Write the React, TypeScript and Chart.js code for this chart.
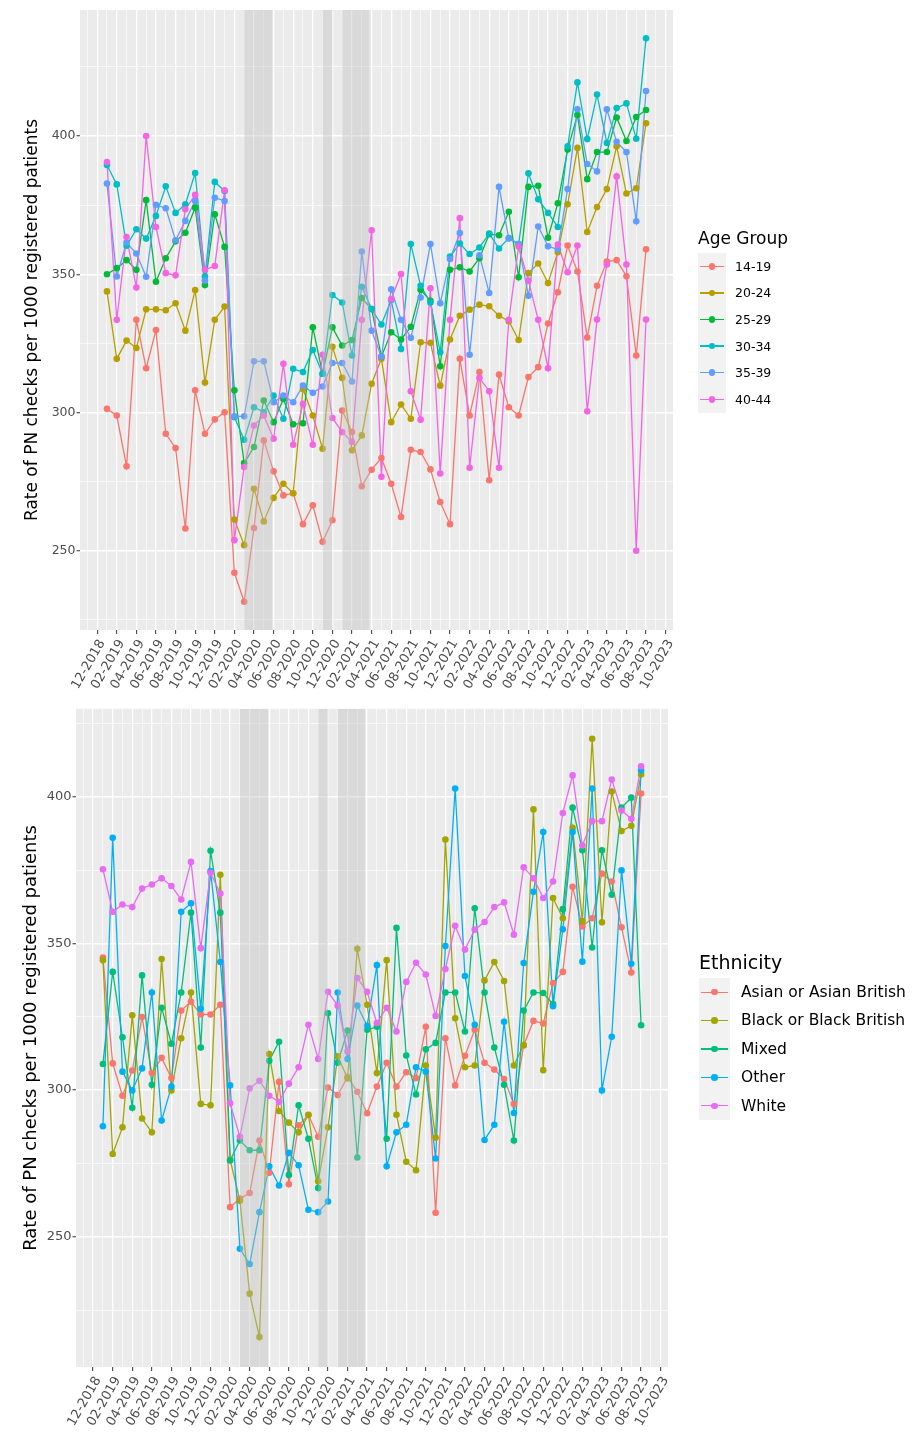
import React, { useEffect, useRef } from "react";
import { Chart, registerables } from "chart.js";

Chart.register(...registerables);

const FONT = "'DejaVu Sans', sans-serif";

// ---------------- DATA ----------------
const months = [
  "01-2019", "02-2019", "03-2019", "04-2019", "05-2019", "06-2019", "07-2019", "08-2019", "09-2019", "10-2019", "11-2019", "12-2019",
  "01-2020", "02-2020", "03-2020", "04-2020", "05-2020", "06-2020", "07-2020", "08-2020", "09-2020", "10-2020", "11-2020", "12-2020",
  "01-2021", "02-2021", "03-2021", "04-2021", "05-2021", "06-2021", "07-2021", "08-2021", "09-2021", "10-2021", "11-2021", "12-2021",
  "01-2022", "02-2022", "03-2022", "04-2022", "05-2022", "06-2022", "07-2022", "08-2022", "09-2022", "10-2022", "11-2022", "12-2022",
  "01-2023", "02-2023", "03-2023", "04-2023", "05-2023", "06-2023", "07-2023", "08-2023",
];

const tickLabels = [
  "12-2018", "02-2019", "04-2019", "06-2019", "08-2019", "10-2019", "12-2019", "02-2020", "04-2020", "06-2020",
  "08-2020", "10-2020", "12-2020", "02-2021", "04-2021", "06-2021", "08-2021", "10-2021", "12-2021", "02-2022",
  "04-2022", "06-2022", "08-2022", "10-2022", "12-2022", "02-2023", "04-2023", "06-2023", "08-2023", "10-2023",
];

const yTickValues = [225, 250, 275, 300, 325, 350, 375, 400, 425];
const yMajorValues = [250, 300, 350, 400];

// lockdown periods (shaded)
const lockdowns = [
  ["2020-03-01", "2020-05-28"],
  ["2020-11-01", "2020-12-01"],
  ["2021-01-01", "2021-03-25"],
];

const ageGroups = ["14-19", "20-24", "25-29", "30-34", "35-39", "40-44"];
const age14_19 = [301.3, 298.9, 280.5, 333.5, 316.0, 329.8, 292.3, 287.1, 258.0, 308.0, 292.3, 297.5, 300.1, 242.0, 231.5, 258.2, 289.9, 278.7, 270.0, 270.8, 259.6, 266.4, 253.2, 261.0, 300.7, 292.9, 273.3, 279.3, 283.5, 274.2, 262.2, 286.5, 285.7, 279.4, 267.6, 259.6, 319.4, 298.9, 314.6, 275.5, 313.7, 301.9, 298.9, 312.8, 316.4, 332.2, 343.5, 360.4, 351.0, 327.1, 345.8, 354.6, 355.1, 349.3, 320.6, 359.0];
const age20_24 = [343.8, 319.4, 326.0, 323.3, 337.3, 337.3, 337.0, 339.5, 329.6, 344.3, 310.8, 333.5, 338.3, 261.3, 252.0, 272.4, 260.6, 269.1, 274.2, 270.8, 308.5, 298.9, 286.9, 323.8, 312.5, 286.3, 291.7, 310.4, 319.4, 296.5, 302.9, 297.7, 325.4, 325.2, 309.7, 326.4, 335.0, 337.2, 339.0, 338.4, 335.0, 333.0, 326.2, 350.4, 353.9, 346.8, 358.0, 375.3, 395.7, 365.3, 374.3, 380.8, 396.3, 379.2, 381.1, 404.6];
const age25_29 = [350.0, 352.2, 355.1, 351.6, 376.8, 347.3, 355.8, 361.9, 365.0, 374.1, 346.1, 371.7, 359.9, 308.0, 281.7, 287.5, 304.3, 296.5, 304.9, 295.7, 296.1, 330.8, 314.0, 330.8, 324.2, 326.2, 341.4, 337.4, 320.2, 329.0, 326.4, 331.0, 344.4, 340.4, 316.7, 351.6, 352.5, 351.0, 355.8, 364.5, 364.1, 372.6, 348.9, 381.6, 382.0, 363.2, 375.7, 395.1, 407.6, 384.4, 394.2, 394.2, 406.7, 398.2, 406.9, 409.4];
const age30_34 = [389.5, 382.5, 360.3, 366.3, 362.9, 371.1, 381.8, 372.2, 375.3, 386.6, 349.2, 383.4, 380.1, 298.3, 290.1, 301.9, 300.1, 306.1, 297.7, 315.8, 314.6, 322.6, 314.0, 342.5, 339.8, 320.6, 345.5, 337.4, 331.8, 340.7, 323.0, 360.9, 345.8, 339.8, 321.8, 356.4, 361.1, 357.3, 359.7, 364.7, 359.3, 363.1, 360.9, 386.5, 377.1, 372.2, 367.1, 396.3, 419.4, 398.9, 415.0, 397.5, 410.1, 411.8, 399.0, 435.4];
const age35_39 = [382.8, 349.2, 361.5, 357.5, 349.1, 375.1, 373.9, 362.3, 369.3, 376.5, 347.7, 377.7, 376.5, 298.6, 298.6, 318.5, 318.5, 303.7, 306.1, 303.7, 309.7, 307.1, 309.4, 317.9, 317.9, 311.2, 358.2, 329.6, 320.2, 344.6, 333.5, 327.0, 341.6, 360.9, 339.5, 355.5, 364.9, 320.9, 356.9, 343.2, 381.6, 362.9, 360.9, 342.2, 367.3, 360.1, 359.0, 380.8, 409.7, 389.9, 387.2, 409.7, 397.9, 394.2, 369.2, 416.3];
const age40_44 = [390.6, 333.5, 363.5, 345.2, 400.0, 367.1, 350.4, 349.6, 373.5, 378.7, 351.6, 353.0, 380.4, 253.8, 280.3, 295.3, 298.9, 290.5, 317.6, 288.3, 303.1, 288.3, 320.9, 298.0, 292.9, 289.3, 333.5, 365.9, 276.7, 341.0, 350.1, 307.7, 297.4, 344.9, 277.9, 333.5, 370.3, 280.0, 312.5, 307.7, 280.0, 333.5, 360.0, 347.7, 333.5, 316.0, 360.7, 350.7, 360.4, 300.4, 333.6, 353.5, 385.4, 353.5, 250.0, 333.6];
const ageColors = ["#F8766D", "#B79F00", "#00BA38", "#00BFC4", "#619CFF", "#F564E3"];

const ethnicities = ["Asian or Asian British", "Black or Black British", "Mixed", "Other", "White"];
const ethAsian = [345.2, 309.1, 298.1, 306.7, 324.9, 305.8, 311.0, 304.1, 327.1, 330.1, 325.8, 325.8, 329.1, 260.1, 263.0, 264.9, 282.8, 271.8, 302.8, 267.9, 288.0, 291.5, 284.1, 300.9, 298.3, 304.5, 299.4, 292.1, 301.2, 309.3, 301.2, 306.1, 304.1, 321.6, 258.2, 317.7, 301.6, 311.7, 320.6, 309.3, 307.0, 303.8, 295.3, 315.2, 323.6, 322.7, 336.5, 340.3, 369.3, 355.8, 358.6, 373.8, 371.1, 355.5, 340.1, 401.1];
const ethBlack = [344.3, 278.2, 287.3, 325.5, 290.3, 285.6, 344.7, 299.9, 317.7, 333.3, 295.3, 294.8, 373.4, 276.3, 262.3, 230.6, 215.8, 312.3, 292.9, 288.9, 285.6, 291.6, 268.9, 287.3, 311.5, 304.0, 348.2, 329.1, 305.8, 344.3, 291.6, 275.6, 272.7, 308.4, 283.8, 385.4, 324.5, 307.8, 308.4, 337.4, 343.7, 337.2, 308.4, 315.4, 395.7, 306.8, 365.5, 358.6, 389.4, 357.6, 419.8, 357.2, 401.8, 388.3, 390.1, 407.6];
const ethMixed = [308.9, 340.3, 318.0, 294.0, 339.1, 301.8, 328.1, 315.8, 333.3, 360.5, 314.5, 381.6, 360.5, 276.0, 282.8, 279.5, 279.5, 310.0, 316.5, 271.1, 294.8, 283.4, 266.6, 326.2, 309.3, 320.3, 277.0, 320.6, 321.6, 283.4, 355.3, 311.8, 298.5, 313.9, 316.1, 333.3, 333.3, 320.0, 362.0, 333.3, 314.5, 301.8, 282.8, 327.1, 333.3, 333.1, 329.3, 361.7, 396.3, 381.8, 348.6, 381.8, 366.6, 396.3, 399.7, 322.1];
const ethOther = [287.7, 386.0, 306.3, 299.9, 307.4, 333.3, 289.6, 301.2, 360.8, 363.7, 327.7, 374.7, 343.7, 301.6, 245.9, 240.7, 258.4, 274.0, 267.5, 278.6, 274.4, 259.2, 258.4, 262.0, 333.3, 310.6, 328.8, 321.9, 342.6, 274.0, 285.6, 288.2, 307.8, 306.3, 276.7, 349.1, 402.8, 338.9, 322.3, 283.0, 288.2, 323.3, 292.2, 343.3, 367.6, 388.0, 328.6, 354.8, 388.0, 343.8, 402.8, 299.9, 318.2, 374.9, 343.1, 409.0];
const ethWhite = [375.3, 360.8, 363.3, 362.4, 368.7, 370.1, 372.2, 369.6, 365.0, 377.8, 348.4, 374.1, 367.0, 295.5, 284.1, 300.6, 303.2, 298.1, 296.0, 302.2, 307.8, 322.3, 310.6, 333.5, 328.8, 313.2, 338.2, 333.5, 322.9, 328.1, 320.0, 336.9, 343.4, 339.4, 325.3, 341.3, 356.0, 347.9, 354.7, 357.3, 362.4, 364.0, 353.0, 376.0, 372.2, 365.5, 371.1, 394.5, 407.3, 383.4, 391.7, 391.7, 405.9, 395.3, 392.5, 410.4];
const ethColors = ["#F8766D", "#A3A500", "#00BF7D", "#00B0F6", "#E76BF3"];

// ---------------- HELPERS ----------------
function monthIndex(label: string): number {
  const [mm, yyyy] = label.split("-").map(Number);
  return (yyyy - 2019) * 12 + (mm - 1);
}
function dateIndex(d: string): number {
  const [y, m, day] = d.split("-").map(Number);
  const dim = new Date(y, m, 0).getDate();
  return (y - 2019) * 12 + (m - 1) + (day - 1) / dim;
}

const tickValues = tickLabels.map(monthIndex);
const bandRanges = lockdowns.map(([s, e]) => [dateIndex(s), dateIndex(e)]);

const panelPlugin = {
  id: "panel",
  beforeDraw(chart: any) {
    const { ctx, chartArea: a } = chart;
    ctx.save();
    ctx.fillStyle = "#EBEBEB";
    ctx.fillRect(a.left, a.top, a.right - a.left, a.bottom - a.top);
    ctx.restore();
  },
  afterDatasetsDraw(chart: any) {
    const { ctx, chartArea: a } = chart;
    const x = chart.scales.x;
    ctx.save();
    ctx.beginPath();
    ctx.rect(a.left, a.top, a.right - a.left, a.bottom - a.top);
    ctx.clip();
    ctx.fillStyle = "rgba(190,190,190,0.4)";
    for (const [s, e] of bandRanges) {
      const x0 = x.getPixelForValue(s);
      const x1 = x.getPixelForValue(e);
      ctx.fillRect(x0, a.top, x1 - x0, a.bottom - a.top);
    }
    ctx.restore();
  },
};

type PanelProps = {
  width: number;
  height: number;
  series: number[][];
  colors: string[];
  padding: { left: number; right: number; top: number; bottom: number };
  yAxisWidth: number;
  xAxisHeight: number;
  titleSize: number;
  titlePad: number;
  tickSize: number;
  xTickSize: number;
};

function PanelChart(p: PanelProps) {
  const ref = useRef<HTMLCanvasElement>(null);
  useEffect(() => {
    if (!ref.current) return;
    const all = p.series.flat();
    const lo = Math.min(...all);
    const hi = Math.max(...all);
    const ey = (hi - lo) * 0.05;
    const n = months.length - 1;
    const ex = n * 0.05;
    const xmin = -ex;
    const xmax = n + ex;
    const xGrid: number[] = [];
    for (let v = Math.ceil(xmin); v <= Math.floor(xmax); v++) xGrid.push(v);
    const isMajorX = (v: number) => tickValues.includes(v);
    const isMajorY = (v: number) => yMajorValues.includes(v);
    const k = p.series.length;

    const lineSets = p.series.map((vals, i) => ({
      type: "line",
      data: vals.map((v, j) => ({ x: j, y: v })),
      borderColor: p.colors[i],
      backgroundColor: p.colors[i],
      borderWidth: 1.3,
      pointRadius: 0,
      fill: false,
      tension: 0,
      order: 100 + (k - i),
    }));
    const pointSets = p.series.map((vals, i) => ({
      type: "line",
      data: vals.map((v, j) => ({ x: j, y: v })),
      showLine: false,
      borderColor: p.colors[i],
      backgroundColor: p.colors[i],
      pointBackgroundColor: p.colors[i],
      pointBorderWidth: 0,
      pointRadius: 3.3,
      order: k - i,
    }));

    const chart = new Chart(ref.current, {
      type: "line",
      data: { datasets: [...lineSets, ...pointSets] as any },
      options: {
        animation: false,
        responsive: false,
        maintainAspectRatio: false,
        events: [],
        layout: { padding: p.padding },
        plugins: { legend: { display: false }, tooltip: { enabled: false } },
        scales: {
          x: {
            type: "linear",
            min: xmin,
            max: xmax,
            afterBuildTicks: (s: any) => {
              s.ticks = xGrid.map((v) => ({ value: v }));
            },
            afterFit: (s: any) => {
              s.height = p.xAxisHeight;
            },
            ticks: {
              autoSkip: false,
              minRotation: 60,
              maxRotation: 60,
              padding: 3,
              labelOffset: 5,
              color: "#4D4D4D",
              font: { family: FONT, size: p.xTickSize },
              callback: (v: any) => {
                const idx = tickValues.indexOf(Number(v));
                return idx >= 0 ? tickLabels[idx] : "";
              },
            },
            grid: {
              color: "#FFFFFF",
              lineWidth: (c: any) => (isMajorX(c.tick?.value) ? 1.3 : 0.6),
              tickLength: 4,
              tickWidth: 1,
              tickColor: (c: any) => (isMajorX(c.tick?.value) ? "#333333" : "rgba(0,0,0,0)"),
            },
            border: { display: false },
          },
          y: {
            type: "linear",
            min: lo - ey,
            max: hi + ey,
            afterBuildTicks: (s: any) => {
              s.ticks = yTickValues.filter((v) => v >= lo - ey && v <= hi + ey).map((v) => ({ value: v }));
            },
            afterFit: (s: any) => {
              s.width = p.yAxisWidth;
            },
            ticks: {
              padding: 1,
              color: "#4D4D4D",
              font: { family: FONT, size: p.tickSize },
              callback: (v: any) => (isMajorY(Number(v)) ? String(v) : ""),
            },
            grid: {
              color: "#FFFFFF",
              lineWidth: (c: any) => (isMajorY(c.tick?.value) ? 1.5 : 0.7),
              tickLength: 3.5,
              tickWidth: 1,
              tickColor: (c: any) => (isMajorY(c.tick?.value) ? "#333333" : "rgba(0,0,0,0)"),
            },
            border: { display: false },
            title: {
              display: true,
              text: "Rate of PN checks per 1000 registered patients",
              color: "#000000",
              font: { family: FONT, size: p.titleSize },
              padding: { top: p.titlePad, bottom: 0 },
            },
          },
        },
      } as any,
      plugins: [panelPlugin as any],
    });
    return () => chart.destroy();
  }, []);
  return <canvas ref={ref} width={p.width} height={p.height} style={{ display: "block" }} />;
}

type LegendProps = {
  left: number;
  titleTop: number;
  title: string;
  titleSize: number;
  items: string[];
  colors: string[];
  boxTop: number;
  itemH: number;
  boxW: number;
  textLeft: number;
  textSize: number;
};

function Legend(l: LegendProps) {
  return (
    <>
      <div
        style={{
          position: "absolute",
          left: l.left,
          top: l.titleTop,
          fontSize: l.titleSize,
          lineHeight: 1,
          color: "#000",
          whiteSpace: "nowrap",
          fontFamily: FONT,
        }}
      >
        {l.title}
      </div>
      <div
        style={{
          position: "absolute",
          left: l.left,
          top: l.boxTop,
          width: l.boxW,
          height: l.itemH * l.items.length,
          background: "#F2F2F2",
        }}
      />
      {l.items.map((it, i) => {
        const cy = l.boxTop + l.itemH * (i + 0.5);
        return (
          <React.Fragment key={it}>
            <div
              style={{
                position: "absolute",
                left: l.left + 2,
                top: cy - 0.7,
                width: l.boxW - 4,
                height: 1.4,
                background: l.colors[i],
              }}
            />
            <div
              style={{
                position: "absolute",
                left: l.left + l.boxW / 2 - 3.3,
                top: cy - 3.3,
                width: 6.6,
                height: 6.6,
                borderRadius: "50%",
                background: l.colors[i],
              }}
            />
            <div
              style={{
                position: "absolute",
                left: l.textLeft,
                top: cy - l.textSize * 0.6,
                fontSize: l.textSize,
                lineHeight: `${l.textSize * 1.2}px`,
                color: "#000",
                whiteSpace: "nowrap",
                fontFamily: FONT,
              }}
            >
              {it}
            </div>
          </React.Fragment>
        );
      })}
    </>
  );
}

export default function App() {
  Chart.defaults.font.family = FONT;
  return (
    <div style={{ position: "absolute", left: 0, top: 0, width: 917, height: 1436, background: "#FFFFFF", fontFamily: FONT }}>
      <div style={{ position: "absolute", left: 0, top: 0 }}>
        <PanelChart
          width={917}
          height={700}
          series={[age14_19, age20_24, age25_29, age30_34, age35_39, age40_44]}
          colors={ageColors}
          padding={{ left: 18, right: 244, top: 10, bottom: 0 }}
          yAxisWidth={62}
          xAxisHeight={70}
          titleSize={17}
          titlePad={4}
          tickSize={12.5}
          xTickSize={13}
        />
      </div>
      <div style={{ position: "absolute", left: 0, top: 700 }}>
        <PanelChart
          width={917}
          height={736}
          series={[ethAsian, ethBlack, ethMixed, ethOther, ethWhite]}
          colors={ethColors}
          padding={{ left: 14, right: 249, top: 3, bottom: 0 }}
          yAxisWidth={62}
          xAxisHeight={69}
          titleSize={18}
          titlePad={7}
          tickSize={13}
          xTickSize={13}
        />
      </div>
      <Legend
        left={698}
        titleTop={230}
        title="Age Group"
        titleSize={17}
        items={ageGroups}
        colors={ageColors}
        boxTop={253}
        itemH={26.6}
        boxW={28}
        textLeft={735}
        textSize={12.5}
      />
      <Legend
        left={699}
        titleTop={953}
        title="Ethnicity"
        titleSize={19}
        items={ethnicities}
        colors={ethColors}
        boxTop={978}
        itemH={28.4}
        boxW={31}
        textLeft={741}
        textSize={15.5}
      />
    </div>
  );
}
